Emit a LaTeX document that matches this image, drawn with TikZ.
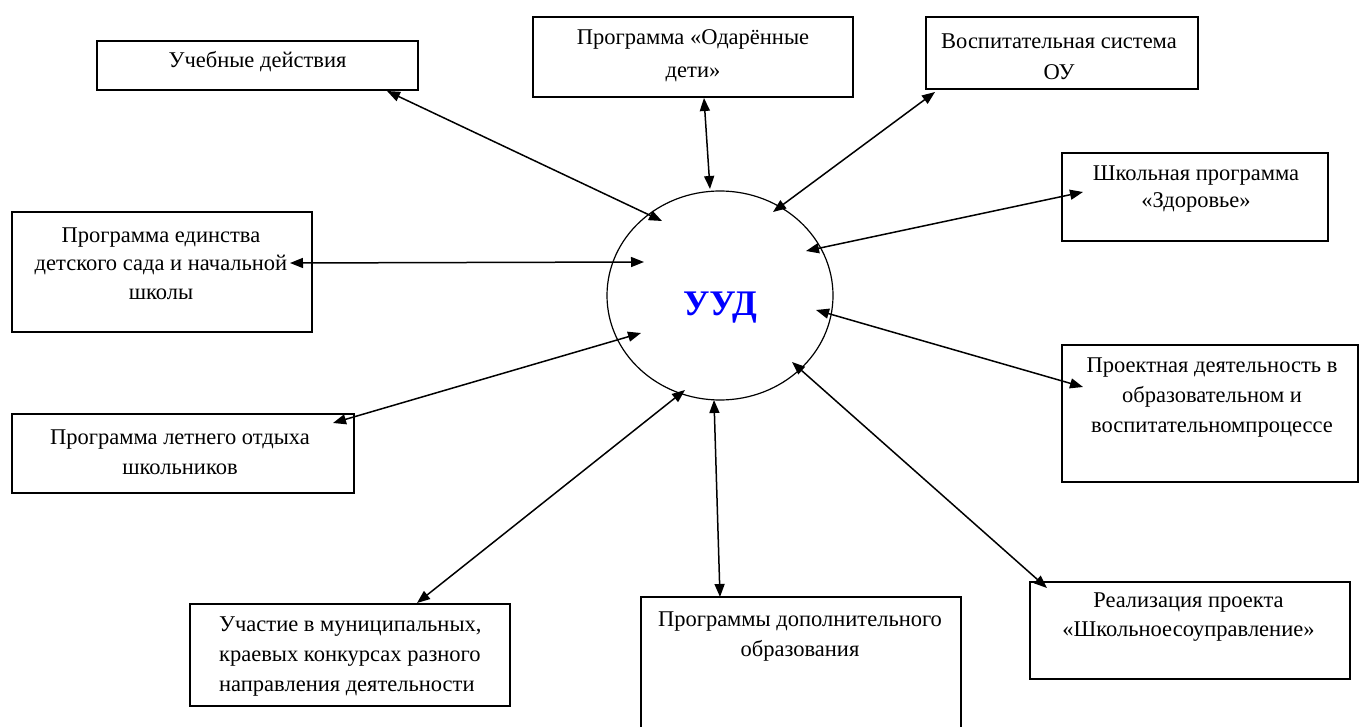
\documentclass[tikz,border=0pt]{standalone}
\usepackage{fontspec}
\setmainfont{Liberation Serif}
\usetikzlibrary{arrows.meta,shapes.geometric}
\begin{document}
\begin{tikzpicture}[x=1pt,y=-1pt,
  boxst/.style={draw, line width=1.5pt, inner sep=0pt, rectangle},
  txt/.style={align=center, inner sep=0pt, font=\fontsize{22.5}{30}\selectfont},
  conn/.style={line width=1.5pt, {Triangle[length=13pt,width=10pt]}-{Triangle[length=13pt,width=10pt]}}]
\fill[white] (0,0) rectangle (1360,727);
\useasboundingbox (0,0) rectangle (1360,727);

% central ellipse
\node[draw, ellipse, line width=1.2pt, minimum width=226pt, minimum height=209pt, inner sep=0pt] (c) at (720,295.5) {};
\node[inner sep=0pt, text=blue, font=\fontsize{36}{40}\selectfont\bfseries] (u) at (720,308) {УУД};

% boxes
\node[boxst, minimum width=321pt, minimum height=49pt] (b1) at (257.5,65.5) {};
\node[boxst, minimum width=320pt, minimum height=80pt] (b2) at (693,57) {};
\node[boxst, minimum width=272pt, minimum height=72pt] (b3) at (1062,53) {};
\node[boxst, minimum width=266pt, minimum height=88pt] (b4) at (1195,197) {};
\node[boxst, minimum width=300pt, minimum height=120pt] (b5) at (162,272) {};
\node[boxst, minimum width=296pt, minimum height=137pt] (b6) at (1210,413.5) {};
\node[boxst, minimum width=342pt, minimum height=79pt] (b7) at (183,453.5) {};
\node[boxst, minimum width=320pt, minimum height=102pt] (b8) at (350,655) {};
\node[boxst, minimum width=320pt, minimum height=140pt] (b9) at (801,667) {};
\node[boxst, minimum width=320pt, minimum height=97pt] (b10) at (1190,630.5) {};

% texts
\node[txt] (t1) at (257.5,62) {Учебные действия};
\node[txt, font=\fontsize{22.5}{33}\selectfont] (t2) at (693,55.5) {Программа «Одарённые\\дети»};
\node[txt, font=\fontsize{22.5}{31}\selectfont] (t3) at (1059,56.5) {Воспитательная система\\ОУ};
\node[txt, font=\fontsize{22.5}{27}\selectfont] (t4) at (1196,189.5) {Школьная программа\\«Здоровье»};
\node[txt, font=\fontsize{22.5}{28.5}\selectfont] (t5) at (161,263.5) {Программа единства\\детского сада и начальной\\школы};
\node[txt] (t6) at (1212,397.5) {Проектная деятельность в\\образовательном и\\воспитательномпроцессе};
\node[txt] (t7) at (180,452) {Программа летнего отдыха\\школьников};
\node[txt, align=left, anchor=west] (t8) at (219,657) {Участие в муниципальных,\\краевых конкурсах разного\\направления деятельности};
\node[txt] (t9) at (800,637) {Программы дополнительного\\образования};
\node[txt, font=\fontsize{22.5}{29}\selectfont] (t10) at (1188.5,617.5) {Реализация проекта\\«Школьноесоуправление»};

% connector end points
\coordinate (p1) at (387,91);   \coordinate (q1) at (662,221);
\coordinate (p2) at (704,98);   \coordinate (q2) at (710,189);
\coordinate (p3) at (935,92);   \coordinate (q3) at (773,212);
\coordinate (p4) at (1083,192); \coordinate (q4) at (806,251);
\coordinate (p5) at (290,263);  \coordinate (q5) at (644,262);
\coordinate (p6) at (1083,387); \coordinate (q6) at (816,310);
\coordinate (p7) at (333,423);  \coordinate (q7) at (641,333);
\coordinate (p8) at (417,603);  \coordinate (q8) at (685,390);
\coordinate (p9) at (720,597);  \coordinate (q9) at (714,400);
\coordinate (p10) at (1047,588); \coordinate (q10) at (792,362);

\foreach \i in {1,...,10} {\draw[conn] (p\i) -- (q\i);}
\end{tikzpicture}
\end{document}
